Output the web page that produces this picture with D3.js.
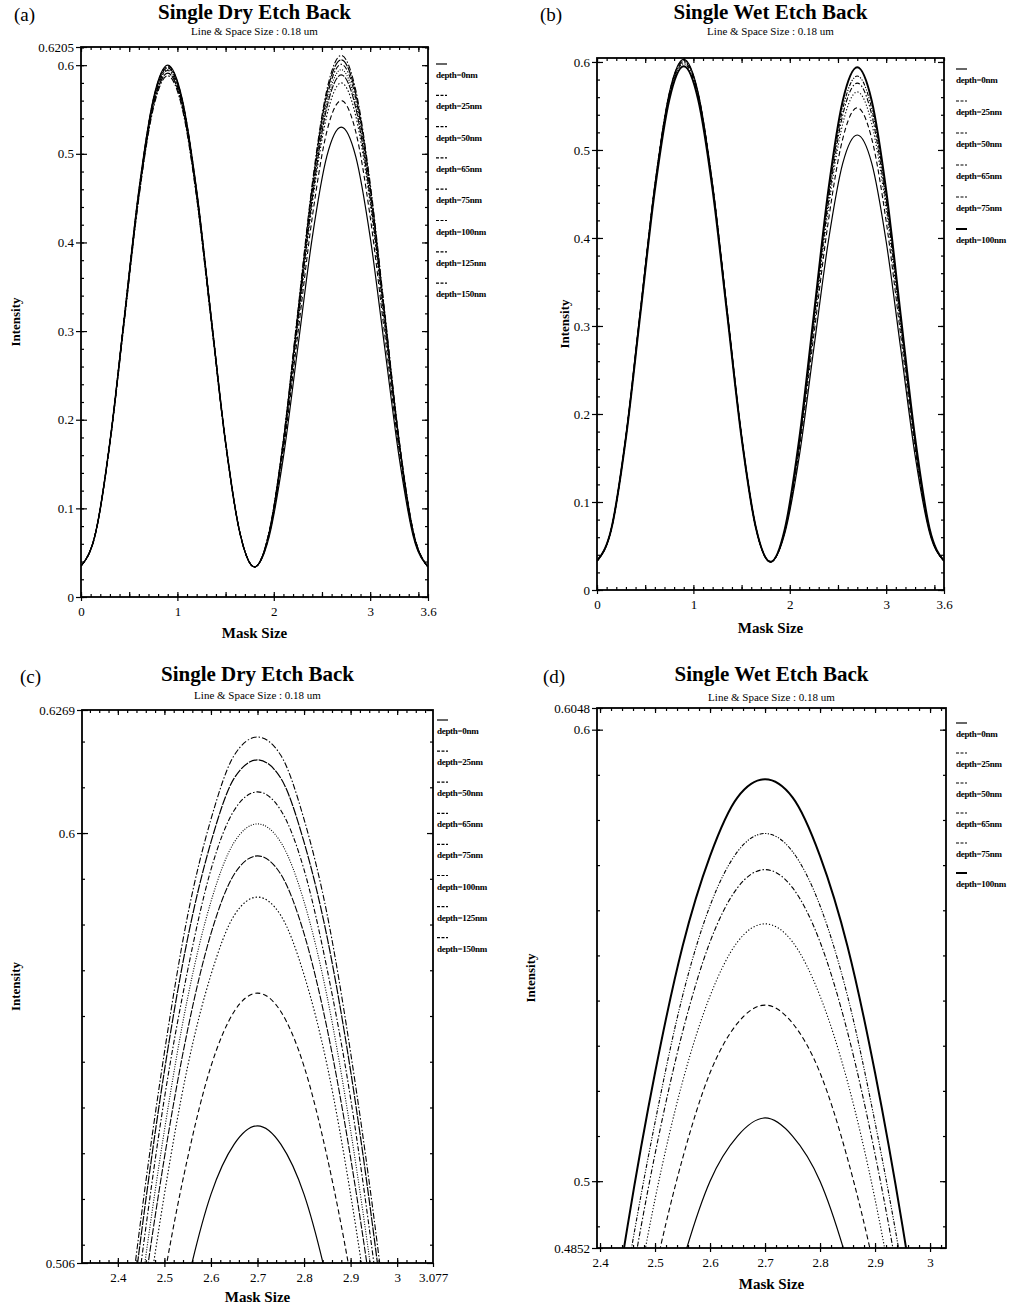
<!DOCTYPE html>
<html>
<head>
<meta charset="utf-8">
<script src="https://cdn.jsdelivr.net/npm/d3@7"></script>
<style>
body { margin: 0; background: #fff; }
svg { display: block; font-family: "Liberation Serif", "Times New Roman", serif; }
</style>
</head>
<body>
<svg id="fig" width="1013" height="1305"></svg>
<script>
// ---- DATA ----
var gridFull = [0, 0.15, 0.3, 0.45, 0.6, 0.75, 0.9, 1.05, 1.2, 1.35, 1.5, 1.65, 1.8,
                1.95, 2.1, 2.25, 2.4, 2.55, 2.7, 2.85, 3.0, 3.15, 3.3, 3.45, 3.6];
var gridZoom = [2.4, 2.45, 2.5, 2.55, 2.6, 2.65, 2.7, 2.75, 2.8, 2.85, 2.9, 2.95, 3.0];

var dryNames = ["depth=0nm", "depth=25nm", "depth=50nm", "depth=65nm", "depth=75nm", "depth=100nm", "depth=125nm", "depth=150nm"];
var wetNames = ["depth=0nm", "depth=25nm", "depth=50nm", "depth=65nm", "depth=75nm", "depth=100nm"];

// (a) single dry etch back, full range
var dry0   = [0.035, 0.072, 0.176, 0.317, 0.459, 0.562, 0.600, 0.562, 0.459, 0.317, 0.176, 0.072, 0.034, 0.067, 0.158, 0.282, 0.406, 0.497, 0.530, 0.497, 0.406, 0.282, 0.158, 0.067, 0.034];
var dry25  = [0.035, 0.072, 0.175, 0.317, 0.458, 0.561, 0.599, 0.561, 0.458, 0.317, 0.175, 0.072, 0.034, 0.069, 0.166, 0.297, 0.429, 0.525, 0.560, 0.525, 0.429, 0.297, 0.166, 0.069, 0.034];
var dry50  = [0.035, 0.072, 0.175, 0.316, 0.457, 0.560, 0.598, 0.560, 0.457, 0.316, 0.175, 0.072, 0.034, 0.071, 0.171, 0.307, 0.444, 0.543, 0.580, 0.543, 0.444, 0.307, 0.171, 0.071, 0.034];
var dry65  = [0.035, 0.072, 0.175, 0.316, 0.456, 0.559, 0.597, 0.559, 0.456, 0.316, 0.175, 0.072, 0.034, 0.071, 0.173, 0.312, 0.450, 0.552, 0.589, 0.552, 0.450, 0.312, 0.173, 0.071, 0.034];
var dry75  = [0.035, 0.072, 0.174, 0.315, 0.455, 0.557, 0.595, 0.557, 0.455, 0.315, 0.174, 0.072, 0.034, 0.072, 0.174, 0.315, 0.455, 0.557, 0.595, 0.557, 0.455, 0.315, 0.174, 0.072, 0.034];
var dry100 = [0.035, 0.072, 0.174, 0.314, 0.454, 0.556, 0.594, 0.556, 0.454, 0.314, 0.174, 0.072, 0.034, 0.072, 0.176, 0.318, 0.459, 0.563, 0.601, 0.563, 0.459, 0.318, 0.176, 0.072, 0.034];
var dry125 = [0.035, 0.071, 0.173, 0.313, 0.452, 0.554, 0.591, 0.554, 0.452, 0.313, 0.173, 0.071, 0.034, 0.072, 0.177, 0.320, 0.463, 0.568, 0.606, 0.568, 0.463, 0.320, 0.177, 0.072, 0.034];
var dry150 = [0.035, 0.071, 0.173, 0.311, 0.450, 0.551, 0.588, 0.551, 0.450, 0.311, 0.173, 0.071, 0.034, 0.073, 0.178, 0.323, 0.467, 0.572, 0.611, 0.572, 0.467, 0.323, 0.178, 0.073, 0.034];

// (b) single wet etch back, full range
var wet0   = [0.033, 0.070, 0.175, 0.318, 0.460, 0.565, 0.603, 0.565, 0.460, 0.318, 0.175, 0.070, 0.032, 0.065, 0.153, 0.275, 0.396, 0.485, 0.517, 0.485, 0.396, 0.275, 0.153, 0.065, 0.033];
var wet25  = [0.033, 0.070, 0.175, 0.317, 0.460, 0.564, 0.602, 0.564, 0.460, 0.317, 0.175, 0.070, 0.032, 0.067, 0.161, 0.290, 0.419, 0.513, 0.548, 0.513, 0.419, 0.290, 0.161, 0.067, 0.033];
var wet50  = [0.033, 0.070, 0.174, 0.317, 0.459, 0.563, 0.601, 0.563, 0.459, 0.317, 0.174, 0.070, 0.032, 0.068, 0.166, 0.299, 0.433, 0.530, 0.566, 0.530, 0.433, 0.299, 0.166, 0.068, 0.033];
var wet65  = [0.033, 0.070, 0.174, 0.316, 0.458, 0.562, 0.600, 0.562, 0.458, 0.316, 0.174, 0.070, 0.032, 0.068, 0.168, 0.304, 0.440, 0.540, 0.576, 0.540, 0.440, 0.304, 0.168, 0.068, 0.033];
var wet75  = [0.033, 0.070, 0.174, 0.315, 0.457, 0.560, 0.598, 0.560, 0.457, 0.315, 0.174, 0.070, 0.032, 0.069, 0.170, 0.308, 0.446, 0.547, 0.584, 0.547, 0.446, 0.308, 0.170, 0.069, 0.033];
var wet100 = [0.033, 0.070, 0.173, 0.314, 0.454, 0.557, 0.595, 0.557, 0.454, 0.314, 0.173, 0.070, 0.032, 0.070, 0.173, 0.313, 0.454, 0.556, 0.594, 0.556, 0.454, 0.313, 0.173, 0.070, 0.033];

// (c) dry, zoom on second peak
var dryZ0   = [0.410, 0.446, 0.477, 0.502, 0.521, 0.532, 0.536, 0.532, 0.521, 0.502, 0.477, 0.446, 0.410];
var dryZ25  = [0.432, 0.470, 0.503, 0.529, 0.549, 0.561, 0.565, 0.561, 0.549, 0.529, 0.503, 0.470, 0.432];
var dryZ50  = [0.448, 0.487, 0.521, 0.549, 0.569, 0.582, 0.586, 0.582, 0.569, 0.549, 0.521, 0.487, 0.448];
var dryZ65  = [0.455, 0.495, 0.529, 0.557, 0.578, 0.591, 0.595, 0.591, 0.578, 0.557, 0.529, 0.495, 0.455];
var dryZ75  = [0.460, 0.500, 0.535, 0.564, 0.585, 0.598, 0.602, 0.598, 0.585, 0.564, 0.535, 0.500, 0.460];
var dryZ100 = [0.465, 0.506, 0.542, 0.570, 0.592, 0.605, 0.609, 0.605, 0.592, 0.570, 0.542, 0.506, 0.465];
var dryZ125 = [0.470, 0.512, 0.548, 0.577, 0.598, 0.612, 0.616, 0.612, 0.598, 0.577, 0.548, 0.512, 0.470];
var dryZ150 = [0.474, 0.516, 0.552, 0.582, 0.603, 0.617, 0.621, 0.617, 0.603, 0.582, 0.552, 0.516, 0.474];

// (d) wet, zoom on second peak
var wetZ0   = [0.394, 0.428, 0.458, 0.482, 0.500, 0.510, 0.514, 0.510, 0.500, 0.482, 0.458, 0.428, 0.394];
var wetZ25  = [0.413, 0.449, 0.480, 0.505, 0.524, 0.535, 0.539, 0.535, 0.524, 0.505, 0.480, 0.449, 0.413];
var wetZ50  = [0.426, 0.463, 0.496, 0.522, 0.541, 0.553, 0.557, 0.553, 0.541, 0.522, 0.496, 0.463, 0.426];
var wetZ65  = [0.435, 0.473, 0.506, 0.533, 0.553, 0.565, 0.569, 0.565, 0.553, 0.533, 0.506, 0.473, 0.435];
var wetZ75  = [0.441, 0.480, 0.513, 0.541, 0.561, 0.573, 0.577, 0.573, 0.561, 0.541, 0.513, 0.480, 0.441];
var wetZ100 = [0.450, 0.490, 0.524, 0.552, 0.572, 0.585, 0.589, 0.585, 0.572, 0.552, 0.524, 0.490, 0.450];

// tick labels
var xLabelsFull = [0, 1, 2, 3, 3.6];
var yLabelsA = [0, 0.1, 0.2, 0.3, 0.4, 0.5, 0.6, 0.6205];
var yLabelsB = [0, 0.1, 0.2, 0.3, 0.4, 0.5, 0.6];
var xLabelsC = [2.4, 2.5, 2.6, 2.7, 2.8, 2.9, 3, 3.077];
var yLabelsC = [0.506, 0.6, 0.6269];
var xLabelsD = [2.4, 2.5, 2.6, 2.7, 2.8, 2.9, 3];
var yLabelsD = [0.4852, 0.5, 0.6, 0.6048];

// ---- STYLES ----
var dryDash = ["", "5,3", "1.5,2", "7,1.5", "1,1.5", "5,2,1.5,2", "9,1.2", "6,2,1.5,2"];
var dryWidth = [1.2, 1.1, 1.1, 1.1, 1.1, 1.1, 1.2, 1.1];
var wetDash = ["", "5,3", "1.2,2", "5,2,1.5,2", "4,1.5,1.2,1.5,1.2,1.5", ""];
var wetWidth = [1.2, 1.1, 1.1, 1.1, 1.1, 2.0];

var panels = [
  { tag: "(a)", title: "Single Dry Etch Back", box: [81, 47, 428, 597],
    xDom: [0, 3.6], yDom: [0, 0.6205], xs: gridFull,
    series: [dry0, dry25, dry50, dry65, dry75, dry100, dry125, dry150], names: dryNames, dash: dryDash, width: dryWidth,
    xLab: xLabelsFull, yLab: yLabelsA, xMinor: 0.1, xMid: 0.5, yMinor: 0.02,
    tagX: 14, headY: 19, subY: 35, yTitleX: 20, xTitleY: 638, legX: 436, legY: 64, legDy: 31.3 },
  { tag: "(b)", title: "Single Wet Etch Back", box: [597, 58, 944, 590],
    xDom: [0, 3.6], yDom: [0, 0.6045], xs: gridFull,
    series: [wet0, wet25, wet50, wet65, wet75, wet100], names: wetNames, dash: wetDash, width: wetWidth,
    xLab: xLabelsFull, yLab: yLabelsB, xMinor: 0.1, xMid: 0.5, yMinor: 0.02,
    tagX: 540, headY: 19, subY: 35, yTitleX: 569, xTitleY: 633, legX: 956, legY: 69, legDy: 32 },
  { tag: "(c)", title: "Single Dry Etch Back", box: [82, 710, 433, 1263],
    xDom: [2.323, 3.077], yDom: [0.506, 0.6269], xs: gridZoom,
    series: [dryZ0, dryZ25, dryZ50, dryZ65, dryZ75, dryZ100, dryZ125, dryZ150], names: dryNames, dash: dryDash, width: dryWidth,
    xLab: xLabelsC, yLab: yLabelsC, xMinor: 0.02, xMid: 0.1, yMinor: 0.01,
    tagX: 20, headY: 681, subY: 699, yTitleX: 20, xTitleY: 1302, legX: 437, legY: 720, legDy: 31.1 },
  { tag: "(d)", title: "Single Wet Etch Back", box: [597, 708, 946, 1248],
    xDom: [2.3945, 3.029], yDom: [0.4852, 0.6048], xs: gridZoom,
    series: [wetZ0, wetZ25, wetZ50, wetZ65, wetZ75, wetZ100], names: wetNames, dash: wetDash, width: wetWidth,
    xLab: xLabelsD, yLab: yLabelsD, xMinor: 0.02, xMid: 0.1, yMinor: 0.01,
    tagX: 543, headY: 681, subY: 701, yTitleX: 535, xTitleY: 1289, legX: 956, legY: 723, legDy: 30 }
];

var svg = d3.select("#fig");

function steps(lo, hi, step) {
  var out = [];
  var n0 = Math.ceil(lo / step - 1e-6), n1 = Math.floor(hi / step + 1e-6);
  for (var i = n0; i <= n1; i++) out.push(+(i * step).toFixed(4));
  return out;
}

panels.forEach(function(p, pi) {
  var L = p.box[0], T = p.box[1], R = p.box[2], B = p.box[3];
  var cx = (L + R) / 2;
  var x = d3.scaleLinear().domain(p.xDom).range([L, R]);
  var y = d3.scaleLinear().domain(p.yDom).range([B, T]);
  var g = svg.append("g");

  // headings
  g.append("text").attr("x", p.tagX).attr("y", p.headY + 2).attr("font-size", 19).text(p.tag);
  g.append("text").attr("x", cx).attr("y", p.headY).attr("text-anchor", "middle")
    .attr("font-size", 21).attr("font-weight", "bold").text(p.title);
  g.append("text").attr("x", cx).attr("y", p.subY).attr("text-anchor", "middle")
    .attr("font-size", 11).text("Line & Space Size : 0.18 um");

  // curves
  var clipId = "clip" + pi;
  svg.append("clipPath").attr("id", clipId).append("rect")
    .attr("x", L).attr("y", T).attr("width", R - L).attr("height", B - T);
  var line = d3.line()
    .x(function(d) { return x(d[0]); })
    .y(function(d) { return y(d[1]); })
    .curve(d3.curveMonotoneX);
  var cg = g.append("g").attr("clip-path", "url(#" + clipId + ")");
  p.series.forEach(function(vals, si) {
    var pts = vals.map(function(v, k) { return [p.xs[k], v]; });
    cg.append("path").datum(pts).attr("d", line)
      .attr("fill", "none").attr("stroke", "#000")
      .attr("stroke-width", p.width[si])
      .attr("stroke-dasharray", p.dash[si] || null);
  });

  // axes: minor ticks on all four sides, pointing inward
  var xMin = steps(p.xDom[0], p.xDom[1], p.xMinor);
  var xMid = steps(p.xDom[0], p.xDom[1], p.xMid);
  var yMin = steps(p.yDom[0], p.yDom[1], p.yMinor);
  function styleAxis(sel) {
    sel.select(".domain").remove();
    sel.selectAll("line").attr("stroke", "#000").attr("stroke-width", 1.2);
    sel.selectAll("text").attr("font-family", "Liberation Serif, serif").attr("font-size", 13).attr("fill", "#000");
  }
  [[d3.axisBottom, B], [d3.axisTop, T]].forEach(function(a) {
    g.append("g").attr("transform", "translate(0," + a[1] + ")")
      .call(a[0](x).tickValues(xMin).tickSize(-3).tickFormat("")).call(styleAxis);
    g.append("g").attr("transform", "translate(0," + a[1] + ")")
      .call(a[0](x).tickValues(xMid).tickSize(-5).tickFormat("")).call(styleAxis);
  });
  [[d3.axisLeft, L], [d3.axisRight, R]].forEach(function(a) {
    g.append("g").attr("transform", "translate(" + a[1] + ",0)")
      .call(a[0](y).tickValues(yMin).tickSize(-3).tickFormat("")).call(styleAxis);
    g.append("g").attr("transform", "translate(" + a[1] + ",0)")
      .call(a[0](y).tickValues(p.yLab).tickSize(-6).tickFormat("")).call(styleAxis);
  });
  // labelled ticks
  g.append("g").attr("transform", "translate(0," + B + ")")
    .call(d3.axisBottom(x).tickValues(p.xLab).tickSize(4).tickPadding(6).tickFormat(function(d) { return String(d); }))
    .call(styleAxis);
  g.append("g").attr("transform", "translate(" + L + ",0)")
    .call(d3.axisLeft(y).tickValues(p.yLab).tickSize(5).tickPadding(2).tickFormat(function(d) { return String(d); }))
    .call(styleAxis);

  // frame
  g.append("rect").attr("x", L).attr("y", T).attr("width", R - L).attr("height", B - T)
    .attr("fill", "none").attr("stroke", "#000").attr("stroke-width", 1.8);

  // axis titles
  g.append("text").attr("x", cx).attr("y", p.xTitleY).attr("text-anchor", "middle")
    .attr("font-size", 15).attr("font-weight", "bold").text("Mask Size");
  g.append("text").attr("transform", "translate(" + p.yTitleX + "," + ((T + B) / 2) + ") rotate(-90)")
    .attr("text-anchor", "middle").attr("font-size", 13).attr("font-weight", "bold").text("Intensity");

  // legend
  var lg = g.append("g");
  p.names.forEach(function(nm, si) {
    var ly = p.legY + si * p.legDy;
    lg.append("line").attr("x1", p.legX).attr("x2", p.legX + 11).attr("y1", ly).attr("y2", ly)
      .attr("stroke", "#000").attr("stroke-width", Math.max(1.2, p.width[si]))
      .attr("stroke-dasharray", p.dash[si] ? "3,1.5" : null);
    lg.append("text").attr("x", p.legX).attr("y", ly + 14)
      .attr("font-size", 9).attr("font-weight", "bold").attr("letter-spacing", -0.3).text(nm);
  });
});
</script>
</body>
</html>
